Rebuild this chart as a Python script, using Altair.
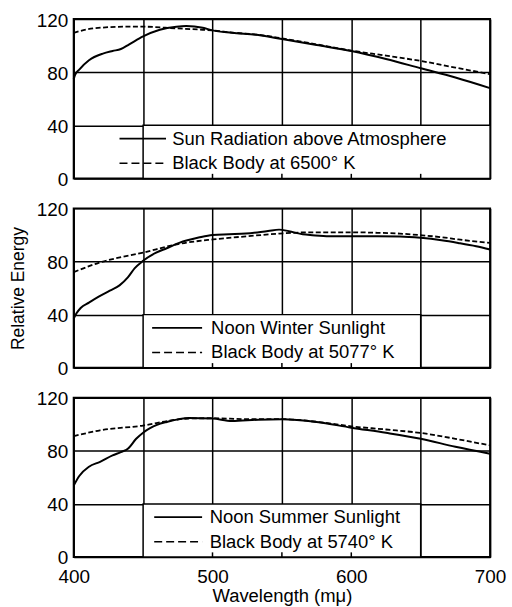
import altair as alt
import pandas as pd

FONT = "Liberation Sans"

X_GRID = [400, 450, 500, 550, 600, 650, 700]
Y_GRID = [0, 40, 80, 120]

# Panel 1: sun radiation above atmosphere vs black body 6500 K
P1_SOLID_WL = [400, 401, 404, 411, 421, 428, 434, 440, 450, 462, 474, 481, 493, 500, 514, 533, 550, 575, 600, 625, 650, 675, 700]
P1_SOLID_E = [74.8, 78, 82, 89, 94, 96, 97.5, 101, 107, 112, 114.3, 114.8, 113.5, 111.5, 109.7, 108, 105, 100.5, 96, 90, 83, 76, 68]
P1_DASH_WL = [400, 414, 438, 450, 474, 493, 500, 514, 533, 550, 575, 600, 625, 650, 675, 700]
P1_DASH_E = [109.7, 113, 114.3, 114.3, 113, 112, 111.5, 109.9, 108.2, 105.5, 101, 96.3, 92.5, 88.5, 83.5, 78.5]

# Panel 2: noon winter sunlight vs black body 5077 K
P2_SOLID_WL = [400, 402, 405, 411, 418, 426, 433, 439, 444, 450, 459, 467, 476, 490, 500, 512, 524, 540, 548, 555, 565, 572, 584, 600, 619, 635, 650, 665, 677, 690, 700]
P2_SOLID_E = [37, 41, 45, 49, 53.5, 58, 62, 68, 75, 80.5, 86.5, 90, 94, 98, 100, 100.5, 101, 103, 104, 102.8, 100.5, 99.8, 99, 99, 99, 98.8, 97.8, 96, 94, 91.5, 89]
P2_DASH_WL = [400, 418, 450, 476, 500, 525, 548, 572, 600, 619, 635, 650, 665, 677, 700]
P2_DASH_E = [72, 79, 86.7, 93.3, 96.6, 99, 101, 102, 102, 101.6, 101, 99.8, 98.3, 96.6, 94]

# Panel 3: noon summer sunlight vs black body 5740 K
P3_SOLID_WL = [400, 404, 411, 419, 428, 434, 439, 445, 450, 455, 460, 467, 483, 500, 514, 533, 550, 575, 600, 625, 650, 675, 700]
P3_SOLID_E = [53.8, 61, 68, 71.7, 76.5, 79, 81.5, 89, 93.6, 97, 99.5, 101.7, 104.7, 104.2, 102.4, 103.4, 103.7, 101.7, 97.4, 93.5, 89, 83, 77.8]
P3_DASH_WL = [400, 419, 450, 471, 483, 500, 525, 550, 575, 600, 625, 650, 675, 700]
P3_DASH_E = [91, 95.4, 99, 103, 104.3, 104.5, 103.8, 103.8, 101.8, 98.4, 96, 93.4, 89, 84]

LEGENDS = [
    ["Sun Radiation above Atmosphere", "Black Body at 6500° K"],
    ["Noon Winter Sunlight", "Black Body at 5077° K"],
    ["Noon Summer Sunlight", "Black Body at 5740° K"],
]
BOX_X = [450, 450, 450]
BOX_X2 = [700, 650, 650]
SAMPLE_X = [433, 456.5, 458]
SAMPLE_X2 = [466.5, 492.5, 492.5]
TEXT_X = [471, 499, 498]
ROW_Y = [30, 11.5]
BOX_TICKS = [[500, 550, 600, 650], [500, 550, 600], [500, 550, 600]]


def panel(i, swl, se, dwl, de, show_x, y_title):
    xscale = alt.Scale(domain=[400, 700], nice=False, zero=False)
    yscale = alt.Scale(domain=[0, 120], nice=False)
    if show_x:
        xaxis = alt.Axis(values=X_GRID, grid=True, ticks=False, domain=False,
                         labelExpr="datum.value % 100 == 0 ? datum.label : ''",
                         labelFontSize=19, labelPadding=11, labelFlush=False,
                         title="Wavelength (mμ)", titleFontSize=18.5, titleFontWeight="normal",
                         titlePadding=0)
    else:
        xaxis = alt.Axis(values=X_GRID, grid=True, ticks=False, domain=False,
                         labels=False, title=None)
    if y_title:
        yaxis = alt.Axis(values=Y_GRID, grid=True, ticks=False, domain=False,
                         labelFontSize=19, labelPadding=6, labelOffset=1,
                         title="Relative Energy", titleFontSize=17.5, titleFontWeight="normal",
                         titlePadding=9)
    else:
        yaxis = alt.Axis(values=Y_GRID, grid=True, ticks=False, domain=False,
                         labelFontSize=19, labelPadding=6, labelOffset=1, title=None)

    def X(field):
        return alt.X(field, type="quantitative", scale=xscale, axis=xaxis)

    def Y(field):
        return alt.Y(field, type="quantitative", scale=yscale, axis=yaxis)

    box = pd.DataFrame({"x": [BOX_X[i]], "x2": [BOX_X2[i]], "y": [0], "y2": [40]})
    solid = pd.DataFrame({"wl": swl, "e": se})
    dashed = pd.DataFrame({"wl": dwl, "e": de})
    samples = pd.DataFrame({"x": [SAMPLE_X[i]] * 2, "x2": [SAMPLE_X2[i]] * 2, "y": ROW_Y,
                            "dash": ["solid", "dashed"]})
    texts = pd.DataFrame({"x": [TEXT_X[i]] * 2, "y": ROW_Y, "t": LEGENDS[i]})
    ticks = pd.DataFrame({"x": BOX_TICKS[i], "y": [0] * len(BOX_TICKS[i]), "y2": [3.5] * len(BOX_TICKS[i])})

    l_box = alt.Chart(box).mark_rect(fill="white", stroke="black", strokeWidth=1.5).encode(
        x=X("x"), x2="x2", y=Y("y"), y2="y2")
    l_solid = alt.Chart(solid).mark_line(color="black", strokeWidth=2, interpolate="monotone").encode(
        x=X("wl"), y=Y("e"))
    l_dash = alt.Chart(dashed).mark_line(color="black", strokeWidth=1.8, strokeDash=[5, 2.5],
                                         interpolate="monotone").encode(x=X("wl"), y=Y("e"))
    l_s1 = alt.Chart(samples[samples.dash == "solid"]).mark_rule(color="black", strokeWidth=1.8).encode(
        x=X("x"), x2="x2", y=Y("y"))
    l_s2 = alt.Chart(samples[samples.dash == "dashed"]).mark_rule(color="black", strokeWidth=1.6,
                                                                  strokeDash=[8, 4]).encode(
        x=X("x"), x2="x2", y=Y("y"))
    l_text = alt.Chart(texts).mark_text(align="left", baseline="middle", fontSize=18.5, font=FONT,
                                        color="black").encode(x=X("x"), y=Y("y"), text="t:N")
    l_ticks = alt.Chart(ticks).mark_rule(color="black", strokeWidth=1.5).encode(
        x=X("x"), y=Y("y"), y2="y2")
    return alt.layer(l_box, l_solid, l_dash, l_s1, l_s2, l_text, l_ticks).properties(width=418, height=160)


p1 = panel(0, P1_SOLID_WL, P1_SOLID_E, P1_DASH_WL, P1_DASH_E, False, False)
p2 = panel(1, P2_SOLID_WL, P2_SOLID_E, P2_DASH_WL, P2_DASH_E, False, True)
p3 = panel(2, P3_SOLID_WL, P3_SOLID_E, P3_DASH_WL, P3_DASH_E, True, False)

chart = alt.vconcat(p1, p2, p3, spacing=30, bounds="flush").properties(
    padding={"left": 8, "top": 9, "right": 5, "bottom": 0},
    background="white",
).configure_view(stroke="black", strokeWidth=2).configure_axis(
    gridColor="black", gridWidth=1.5, gridOpacity=1,
    labelColor="black", titleColor="black", labelFont=FONT, titleFont=FONT,
)

chart.save("out.html", embed_options={"renderer": "svg", "actions": False})
